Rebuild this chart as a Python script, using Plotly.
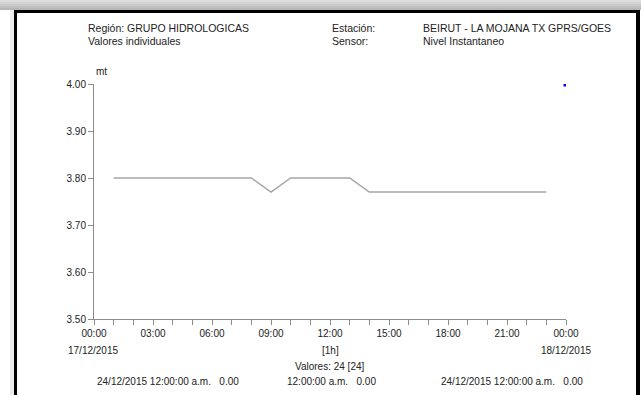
import plotly.graph_objects as go

# hourly readings, 17/12/2015 01:00 .. 18/12/2015 00:00
hours = list(range(1, 24))
nivel = [3.80, 3.80, 3.80, 3.80, 3.80, 3.80, 3.80, 3.80, 3.77, 3.80,
         3.80, 3.80, 3.80, 3.77, 3.77, 3.77, 3.77, 3.77, 3.77, 3.77,
         3.77, 3.77, 3.77]
last_hour = [24]
last_value = [4.00]

tick_hours = list(range(0, 25))
tick_labels = ["00:00", "03:00", "06:00", "09:00", "12:00", "15:00", "18:00", "21:00", "00:00"]
y_ticks = [3.50, 3.60, 3.70, 3.80, 3.90, 4.00]

W, H = 641, 395
L, R, T, B = 94, 75, 84, 76
FONT = "Liberation Sans Narrow, Arial Narrow, Liberation Sans, Arial"


def px(x):
    return (x - L) / (W - L - R)


def py(y):
    return (H - B - y) / (H - T - B)


ticktext = []
for h in tick_hours:
    ticktext.append(tick_labels[h // 3] if h % 3 == 0 else "")

fig = go.Figure()
fig.add_trace(go.Scatter(x=hours, y=nivel, mode="lines",
                         line=dict(color="#a6a6a6", width=1.5), hoverinfo="skip"))
fig.add_trace(go.Scatter(x=last_hour, y=last_value, mode="markers",
                         marker=dict(color="#0000ff", size=5, symbol="square"),
                         hoverinfo="skip"))

fig.update_layout(
    width=W, height=H, showlegend=False,
    margin=dict(l=L, r=R, t=T, b=B, autoexpand=False),
    paper_bgcolor="white", plot_bgcolor="white",
    font=dict(family=FONT, size=10, color="#222222"),
)
fig.update_xaxes(range=[0, 24], tickvals=tick_hours, ticktext=ticktext,
                 showgrid=False, zeroline=False, showline=True, linecolor="#8c8c8c",
                 ticks="outside", ticklen=5, tickcolor="#8c8c8c", tickangle=0,
                 tickfont=dict(size=10))
fig.update_yaxes(range=[3.50, 4.00], tickvals=y_ticks, tickformat=".2f",
                 showgrid=False, zeroline=False, showline=True, linecolor="#8c8c8c",
                 ticks="outside", ticklen=5, tickcolor="#8c8c8c",
                 tickfont=dict(size=10))

texts = [
    ("Región: GRUPO HIDROLOGICAS", 86, 28, "left"),
    ("Valores individuales", 86, 41, "left"),
    ("Estación:", 330, 28, "left"),
    ("Sensor:", 330, 41, "left"),
    ("BEIRUT - LA MOJANA TX GPRS/GOES", 421, 28, "left"),
    ("Nivel Instantaneo", 421, 41, "left"),
    ("mt", 94, 71, "left"),
    ("17/12/2015", 93, 350, "center"),
    ("[1h]", 330, 350, "center"),
    ("18/12/2015", 566, 350, "center"),
    ("Valores: 24 [24]", 330, 366, "center"),
    ("24/12/2015 12:00:00 a.m.   0.00", 95, 381, "left"),
    ("12:00:00 a.m.   0.00", 285, 381, "left"),
    ("24/12/2015 12:00:00 a.m.   0.00", 439, 381, "left"),
]
for t, x, y, anchor in texts:
    fig.add_annotation(text=t, x=px(x), y=py(y), xref="paper", yref="paper",
                       xanchor=anchor, yanchor="middle", showarrow=False,
                       font=dict(size=10.5 if y < 50 else 10))

# page frame with top shadow
shades = ["#dedede", "#d4d4d4", "#cacaca", "#c0c0c0", "#b6b6b6"]
for i, c in enumerate(shades):
    fig.add_shape(type="rect", xref="paper", yref="paper",
                  x0=px(0), x1=px(W), y0=py(i * 2), y1=py(i * 2 + 2),
                  fillcolor=c, line_width=0, layer="below")
fig.add_shape(type="rect", xref="paper", yref="paper",
              x0=px(10), x1=px(14), y0=py(10), y1=py(H),
              fillcolor="#ececec", line_width=0, layer="below")
for x0, x1, y0, y1 in [(14, 637, 10, 13), (14, 17, 10, H), (636, 640, 10, H)]:
    fig.add_shape(type="rect", xref="paper", yref="paper",
                  x0=px(x0), x1=px(x1), y0=py(y0), y1=py(y1),
                  fillcolor="#000000", line_width=0)

fig.write_html("out.html", config={"displayModeBar": False},
               post_script="document.body.style.margin='0';")
